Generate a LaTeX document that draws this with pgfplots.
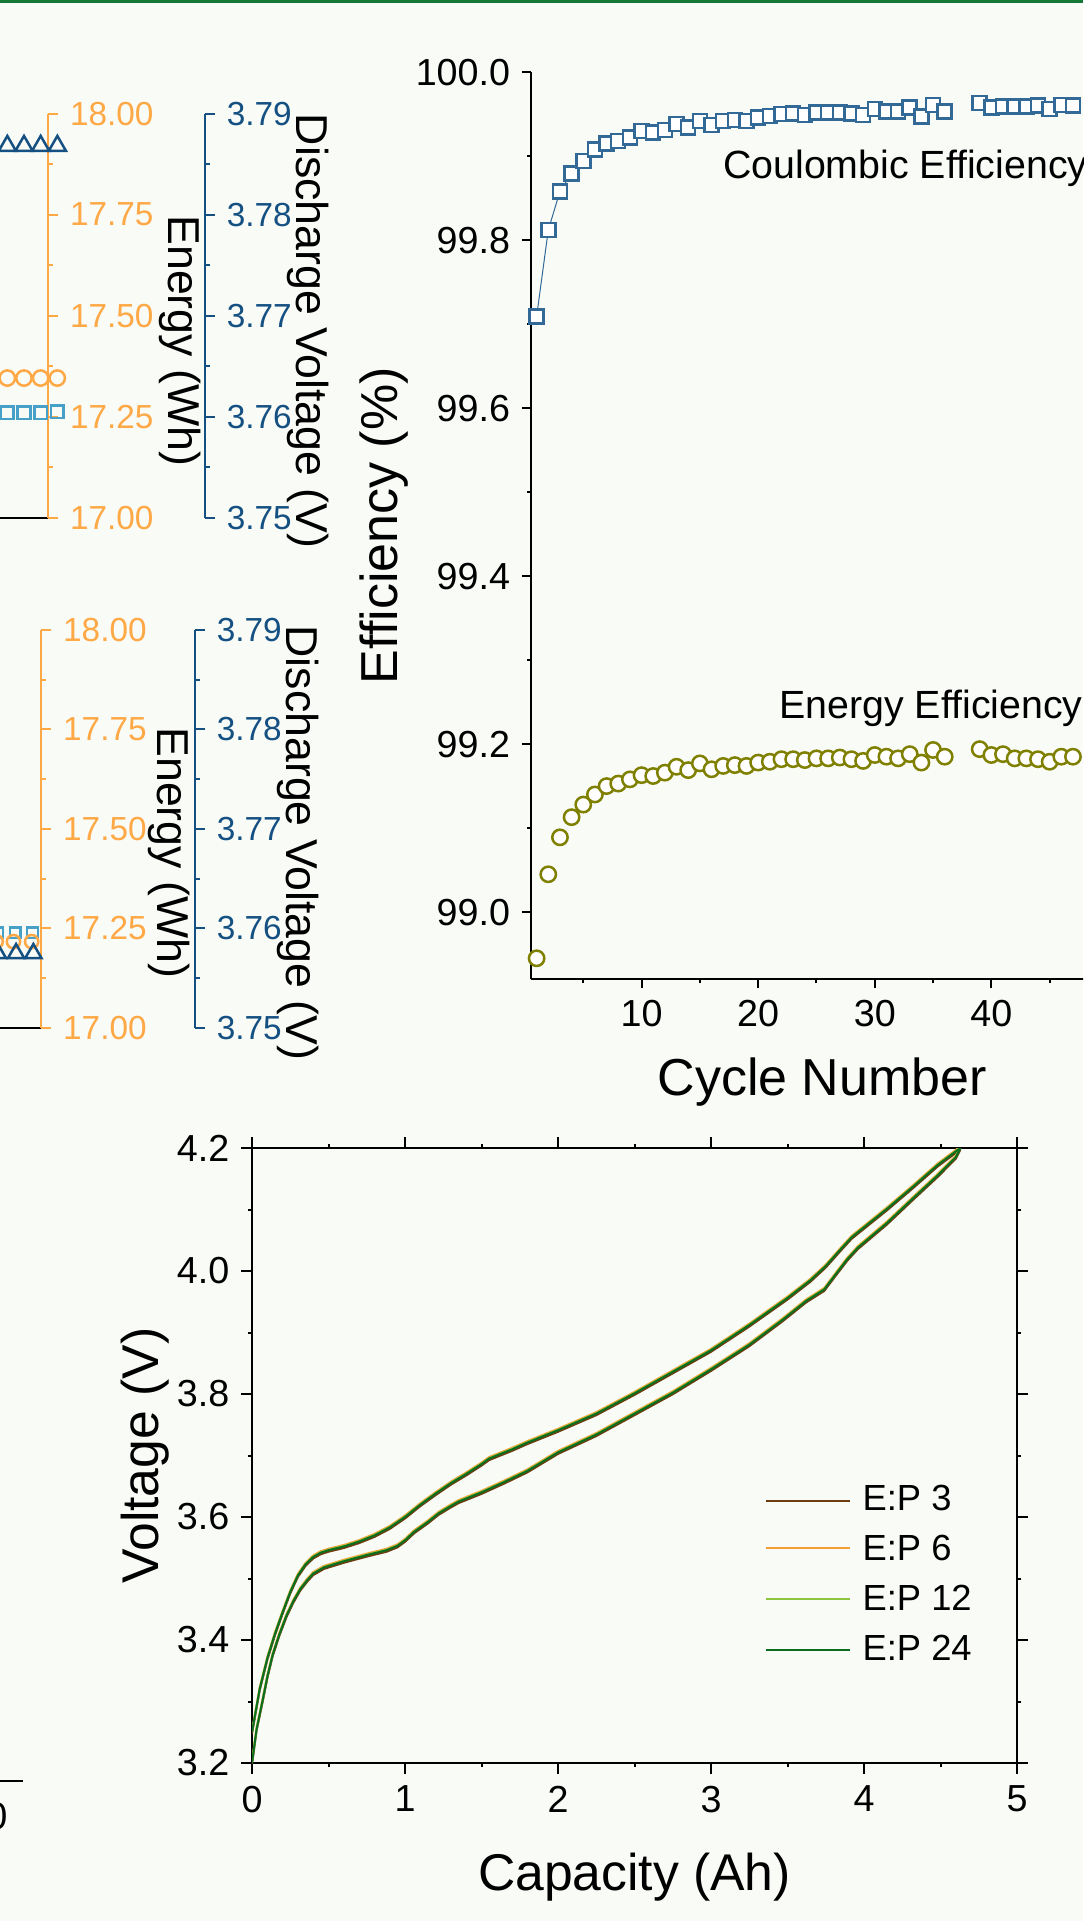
\documentclass[border=0pt]{standalone}
\usepackage{fontspec}
\setmainfont{Liberation Sans}
\usepackage{pgfplots}
\pgfplotsset{compat=1.18}
\usepackage{pgfplotstable}

\definecolor{bg}{RGB}{249,251,246}
\definecolor{topgreen}{RGB}{20,120,55}
\definecolor{eorange}{RGB}{255,168,70}
\definecolor{vblue}{RGB}{20,80,130}
\definecolor{sqblue}{RGB}{70,160,200}
\definecolor{ceblue}{RGB}{50,105,150}
\definecolor{eeolive}{RGB}{128,128,0}
\definecolor{ep3}{RGB}{110,60,15}
\definecolor{ep6}{RGB}{245,160,50}
\definecolor{ep12}{RGB}{140,198,63}
\definecolor{ep24}{RGB}{10,110,30}

% Coulombic efficiency (%)
\pgfplotstableread{
N CE
1 99.709
2 99.812
3 99.858
4 99.879
5 99.894
6 99.908
7 99.915
8 99.918
9 99.922
10 99.930
11 99.928
12 99.931
13 99.938
14 99.934
15 99.942
16 99.937
17 99.942
18 99.943
19 99.942
20 99.946
21 99.948
22 99.950
23 99.951
24 99.949
25 99.952
26 99.952
27 99.952
28 99.951
29 99.949
30 99.956
31 99.953
32 99.953
33 99.958
34 99.947
35 99.961
36 99.953
37 nan
39 99.963
40 99.958
41 99.959
42 99.959
43 99.959
44 99.960
45 99.956
46 99.961
47 99.960
}\cetab

% Energy efficiency (%)
\pgfplotstableread{
N EE
1 98.945
2 99.045
3 99.089
4 99.113
5 99.128
6 99.140
7 99.150
8 99.153
9 99.158
10 99.163
11 99.162
12 99.166
13 99.173
14 99.169
15 99.177
16 99.170
17 99.174
18 99.175
19 99.174
20 99.178
21 99.179
22 99.182
23 99.182
24 99.181
25 99.183
26 99.183
27 99.184
28 99.182
29 99.180
30 99.187
31 99.185
32 99.183
33 99.188
34 99.178
35 99.193
36 99.185
39 99.194
40 99.187
41 99.188
42 99.183
43 99.183
44 99.182
45 99.179
46 99.185
47 99.185
}\eetab

% Charge branch (upper curve)
\pgfplotstableread{
C V
0.00 3.250
0.05 3.320
0.10 3.370
0.15 3.410
0.20 3.445
0.25 3.478
0.30 3.505
0.35 3.523
0.40 3.535
0.45 3.542
0.50 3.546
0.60 3.552
0.70 3.560
0.80 3.570
0.90 3.583
1.00 3.600
1.10 3.620
1.20 3.638
1.30 3.655
1.40 3.670
1.50 3.686
1.55 3.695
1.60 3.700
1.70 3.710
1.80 3.721
1.90 3.731
2.00 3.741
2.25 3.768
2.50 3.801
2.75 3.836
3.00 3.871
3.25 3.912
3.50 3.956
3.65 3.985
3.75 4.008
3.85 4.036
3.92 4.055
4.00 4.071
4.15 4.101
4.32 4.137
4.48 4.172
4.63 4.200
}\chargetab

% Discharge branch (lower curve)
\pgfplotstableread{
C V
0.000 3.200
0.030 3.255
0.068 3.300
0.100 3.340
0.135 3.376
0.180 3.410
0.226 3.440
0.270 3.463
0.316 3.483
0.360 3.497
0.400 3.508
0.470 3.518
0.600 3.528
0.750 3.538
0.880 3.546
0.950 3.553
1.000 3.562
1.060 3.576
1.150 3.592
1.220 3.606
1.300 3.618
1.350 3.625
1.500 3.640
1.650 3.657
1.800 3.675
1.900 3.690
2.000 3.705
2.250 3.734
2.500 3.768
2.750 3.802
3.000 3.840
3.250 3.880
3.470 3.921
3.620 3.951
3.740 3.970
3.810 3.993
3.890 4.019
3.960 4.038
4.150 4.078
4.320 4.118
4.480 4.155
4.600 4.185
4.630 4.200
}\dischargetab

\pgfplotsset{
  every axis/.append style={scale only axis, scaled ticks=false,
    /pgf/number format/assume math mode=true},
}

\begin{document}
\begin{tikzpicture}
\useasboundingbox (0,0) rectangle (324.9pt,576.3pt);
\fill[bg] (0,0) rectangle (324.9pt,576.3pt);
\clip (0,0) rectangle (324.9pt,576.3pt);
\fill[topgreen] (0,575.4pt) rectangle (324.9pt,576.3pt);

% ---------- top-left fragment: energy axis ----------
\begin{axis}[
  at={(-6pt,420.9pt)}, anchor=south west,
  width=20.49pt, height=121.32pt,
  xmin=45.36, xmax=49.46, ymin=17, ymax=18,
  axis x line*=bottom, axis y line*=right,
  x axis line style={-, black, line width=0.6pt},
  y axis line style={-, eorange, line width=0.6pt},
  xtick=\empty,
  ytick={17,17.25,17.5,17.75,18}, minor y tick num=1,
  tick align=outside, major tick length=3pt, minor tick length=1.5pt,
  tick style={eorange, line width=0.6pt},
  yticklabel style={text=eorange, font=\fontsize{10}{12}\selectfont,
    /pgf/number format/fixed, /pgf/number format/fixed zerofill, /pgf/number format/precision=2},
  ylabel={Energy (Wh)},
  ylabel style={at={(axis description cs:2.928,0.438)}, anchor=center, rotate=180,
    font=\fontsize{13.4}{16}\selectfont, text=black},
  clip=false,
]
\addplot[only marks, mark=o, mark size=2.3pt, color=eorange, mark options={line width=0.75pt}]
  coordinates {(47,17.346)(48,17.346)(49,17.346)(50,17.346)};
\addplot[only marks, mark=square, mark size=1.9pt, color=sqblue, mark options={line width=0.75pt}]
  coordinates {(47,17.260)(48,17.260)(49,17.260)(50,17.263)};
\end{axis}

% ---------- top-left fragment: voltage axis ----------
\begin{axis}[
  at={(-6pt,420.9pt)}, anchor=south west,
  width=67.5pt, height=121.32pt,
  xmin=45.36, xmax=58.857, ymin=3.75, ymax=3.79,
  axis x line=none, axis y line*=right,
  y axis line style={-, vblue, line width=0.6pt},
  ytick={3.75,3.76,3.77,3.78,3.79}, minor y tick num=1,
  tick align=outside, major tick length=3pt, minor tick length=1.5pt,
  tick style={vblue, line width=0.6pt},
  yticklabel style={text=vblue, font=\fontsize{10}{12}\selectfont,
    /pgf/number format/fixed, /pgf/number format/fixed zerofill, /pgf/number format/precision=2},
  ylabel={Discharge Voltage (V)},
  ylabel style={at={(axis description cs:1.458,0.462)}, anchor=center, rotate=180,
    font=\fontsize{13.4}{16}\selectfont, text=black},
  clip=false,
]
\addplot[only marks, mark=triangle, mark size=3pt, color=vblue, mark options={line width=0.75pt}]
  coordinates {(47,3.7868)(48,3.7868)(49,3.7868)(50,3.7868)};
\end{axis}

% ---------- middle-left fragment: energy axis ----------
\begin{axis}[
  at={(-6pt,267.9pt)}, anchor=south west,
  width=18.42pt, height=119.4pt,
  xmin=46.965, xmax=50.514, ymin=17, ymax=18,
  axis x line*=bottom, axis y line*=right,
  x axis line style={-, black, line width=0.6pt},
  y axis line style={-, eorange, line width=0.6pt},
  xtick=\empty,
  ytick={17,17.25,17.5,17.75,18}, minor y tick num=1,
  tick align=outside, major tick length=3pt, minor tick length=1.5pt,
  tick style={eorange, line width=0.6pt},
  yticklabel style={text=eorange, font=\fontsize{10}{12}\selectfont,
    /pgf/number format/fixed, /pgf/number format/fixed zerofill, /pgf/number format/precision=2},
  ylabel={Energy (Wh)},
  ylabel style={at={(axis description cs:3.086,0.44)}, anchor=center, rotate=180,
    font=\fontsize{13.4}{16}\selectfont, text=black},
  clip=false,
]
\addplot[only marks, mark=square, mark size=1.6pt, color=sqblue, mark options={line width=0.75pt}]
  coordinates {(48,17.239)(49,17.239)(50,17.239)};
\addplot[only marks, mark=o, mark size=2.0pt, color=eorange, mark options={line width=0.75pt}]
  coordinates {(47.9,17.217)(48.9,17.217)(49.95,17.217)};
\end{axis}

% ---------- middle-left fragment: voltage axis ----------
\begin{axis}[
  at={(-6pt,267.9pt)}, anchor=south west,
  width=64.5pt, height=119.4pt,
  xmin=46.965, xmax=59.393, ymin=3.75, ymax=3.79,
  axis x line=none, axis y line*=right,
  y axis line style={-, vblue, line width=0.6pt},
  ytick={3.75,3.76,3.77,3.78,3.79}, minor y tick num=1,
  tick align=outside, major tick length=3pt, minor tick length=1.5pt,
  tick style={vblue, line width=0.6pt},
  yticklabel style={text=vblue, font=\fontsize{10}{12}\selectfont,
    /pgf/number format/fixed, /pgf/number format/fixed zerofill, /pgf/number format/precision=2},
  ylabel={Discharge Voltage (V)},
  ylabel style={at={(axis description cs:1.477,0.465)}, anchor=center, rotate=180,
    font=\fontsize{13.4}{16}\selectfont, text=black},
  clip=false,
]
\addplot[only marks, mark=triangle, mark size=2.8pt, color=vblue, mark options={line width=0.75pt}]
  coordinates {(48,3.7575)(49.05,3.7575)(50.05,3.7575)};
\end{axis}

% ---------- bottom-left fragment ----------
\begin{axis}[
  at={(-18pt,42.09pt)}, anchor=south west,
  width=24.81pt, height=5pt,
  xmin=47.24, xmax=52.2, ymin=0, ymax=1,
  axis x line*=bottom, axis y line=none,
  axis line style={-, black, line width=0.6pt},
  xtick={50}, tick align=outside, major tick length=3pt,
  tick style={black, line width=0.6pt},
  xticklabel style={font=\fontsize{11.5}{13}\selectfont},
]
\end{axis}

% ---------- efficiency panel ----------
\begin{axis}[
  at={(159.24pt,282.51pt)}, anchor=south west,
  width=174.9pt, height=272.16pt,
  xmin=0.5, xmax=50.5, ymin=98.92, ymax=100,
  axis x line*=bottom, axis y line*=left,
  axis line style={-, black, line width=0.6pt},
  xtick={10,20,30,40}, minor xtick={5,15,25,35,45},
  ytick={99,99.2,99.4,99.6,99.8,100}, minor y tick num=1,
  tick align=outside, major tick length=2.7pt, minor tick length=1.2pt,
  tick style={black, line width=0.6pt},
  ticklabel style={font=\fontsize{11.3}{13}\selectfont},
  yticklabel style={/pgf/number format/fixed, /pgf/number format/fixed zerofill, /pgf/number format/precision=1},
  xlabel={Cycle Number}, ylabel={Efficiency (\%)},
  label style={font=\fontsize{15.6}{18}\selectfont},
  xlabel style={at={(axis description cs:0.5,-0.113)}, anchor=center},
  ylabel style={at={(axis description cs:-0.2518,0.5)}, anchor=center},
  unbounded coords=jump,
]
\addplot[color=ceblue, line width=0.3pt, mark=square*, mark size=2.1pt,
  mark options={fill=white, draw=ceblue, line width=0.75pt}] table[x=N, y=CE] {\cetab};
\addplot[only marks, color=eeolive, mark=*, mark size=2.3pt,
  mark options={fill=white, draw=eeolive, line width=0.75pt}] table[x=N, y=EE] {\eetab};
\node[anchor=base west, inner sep=0pt, font=\fontsize{11.8}{14}\selectfont] at (axis cs:16.94,99.873) {Coulombic Efficiency};
\node[anchor=base west, inner sep=0pt, font=\fontsize{11.8}{14}\selectfont] at (axis cs:21.76,99.231) {Energy Efficiency};
\end{axis}

% ---------- voltage vs capacity panel ----------
\begin{axis}[
  at={(75.6pt,47.4pt)}, anchor=south west,
  width=229.5pt, height=184.5pt,
  xmin=0, xmax=5, ymin=3.2, ymax=4.2,
  xtick={0,1,2,3,4,5}, minor x tick num=1,
  ytick={3.2,3.4,3.6,3.8,4.0,4.2}, minor y tick num=1,
  tick align=outside, tick pos=both,
  major tick length=3.3pt, minor tick length=1.3pt,
  axis line style={line width=0.6pt}, tick style={black, line width=0.6pt},
  ticklabel style={font=\fontsize{11.3}{13}\selectfont},
  yticklabel style={/pgf/number format/fixed, /pgf/number format/fixed zerofill, /pgf/number format/precision=1},
  xlabel={Capacity (Ah)}, ylabel={Voltage (V)},
  label style={font=\fontsize{15.5}{18}\selectfont},
  xlabel style={at={(axis description cs:0.5,-0.1854)}, anchor=center},
  ylabel style={at={(axis description cs:-0.14,0.5)}, anchor=center},
  legend style={at={(0.669,0.4537)}, anchor=north west, draw=none, fill=none,
    inner sep=0pt, font=\fontsize{10.9}{13}\selectfont, row sep=5.9pt,
    nodes={inner sep=0pt}},
  legend cell align=left,
  legend image code/.code={\draw[#1, line width=0.65pt, yshift=0pt] (0pt,0pt) -- (25.2pt,0pt);},
]
\addplot[ep3, line width=0.6pt, yshift=-0.45pt] table[x=C, y=V] {\chargetab};
\addlegendentry{\hspace{3.6pt}E:P 3}
\addplot[ep3, line width=0.6pt, yshift=-0.45pt, forget plot] table[x=C, y=V] {\dischargetab};
\addplot[ep6, line width=0.6pt, yshift=0.45pt] table[x=C, y=V] {\chargetab};
\addlegendentry{\hspace{3.6pt}E:P 6}
\addplot[ep6, line width=0.6pt, yshift=0.45pt, forget plot] table[x=C, y=V] {\dischargetab};
\addplot[ep12, line width=0.6pt, yshift=0.15pt] table[x=C, y=V] {\chargetab};
\addlegendentry{\hspace{3.6pt}E:P 12}
\addplot[ep12, line width=0.6pt, yshift=0.15pt, forget plot] table[x=C, y=V] {\dischargetab};
\addplot[ep24, line width=0.6pt] table[x=C, y=V] {\chargetab};
\addlegendentry{\hspace{3.6pt}E:P 24}
\addplot[ep24, line width=0.6pt, forget plot] table[x=C, y=V] {\dischargetab};
\end{axis}
\end{tikzpicture}
\end{document}
